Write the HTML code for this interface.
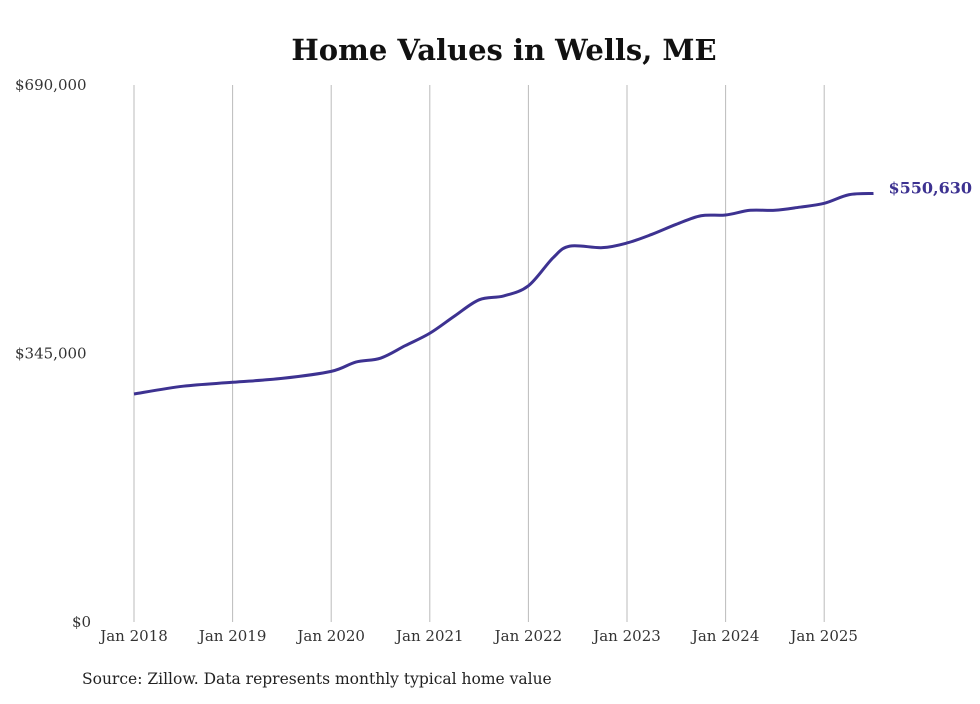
<!DOCTYPE html>
<html><head><meta charset="utf-8"><style>
body{margin:0;background:#fff;width:980px;height:699px;overflow:hidden}
svg text{font-family:"DejaVu Serif","Liberation Serif",serif}
</style></head><body>
<svg id="chart" width="980" height="699">
<text x="504" y="60" text-anchor="middle" font-size="29" font-weight="bold" fill="#111">Home Values in Wells, ME</text>
<g id="grid"></g><g id="yaxis"></g><g id="xaxis"></g>
<path id="line" fill="none" stroke="#3d3291" stroke-width="3"/>
<text id="endlabel" font-size="16" font-weight="bold" fill="#3d3291"></text>
<text x="82" y="684" font-size="15.5" fill="#222">Source: Zillow. Data represents monthly typical home value</text>
</svg>
<script>
const dates=[2018.0,2018.5,2019.0,2019.5,2020.0,2020.25,2020.5,2020.75,2021.0,2021.25,2021.5,2021.75,2022.0,2022.25,2022.42,2022.75,2023.0,2023.25,2023.5,2023.75,2024.0,2024.25,2024.5,2024.75,2025.0,2025.25,2025.5];
const values=[293000,303000,308000,313000,322000,334000,339000,355000,371000,393000,414000,419000,432000,468000,483000,481000,487000,498000,511000,522000,523000,529000,529000,533000,538000,549000,550630];
const yTicks=[0,345000,690000];
const yTickLabels=["$0","$345,000","$690,000"];
const xTicks=[2018,2019,2020,2021,2022,2023,2024,2025];
const xTickLabels=["Jan 2018","Jan 2019","Jan 2020","Jan 2021","Jan 2022","Jan 2023","Jan 2024","Jan 2025"];
const X=t=>134+(t-2018)*98.6;
const Y=v=>622-v*(537/690000);
const ns="http://www.w3.org/2000/svg";
const grid=document.getElementById('grid'),ya=document.getElementById('yaxis'),xa=document.getElementById('xaxis');
xTicks.forEach((t,i)=>{
 const l=document.createElementNS(ns,'line');
 l.setAttribute('x1',X(t));l.setAttribute('x2',X(t));l.setAttribute('y1',85);l.setAttribute('y2',622);
 l.setAttribute('stroke','#bbb');l.setAttribute('stroke-width','1');
 
 
 grid.appendChild(l);
 const tx=document.createElementNS(ns,'text');
 tx.setAttribute('x',X(t));tx.setAttribute('y',641);tx.setAttribute('text-anchor','middle');
 tx.setAttribute('font-size','15');tx.setAttribute('fill','#333');tx.textContent=xTickLabels[i];
 
 
 xa.appendChild(tx);
});
yTicks.forEach((v,i)=>{
 const tx=document.createElementNS(ns,'text');
 tx.setAttribute('x',i===0?72:15);tx.setAttribute('y',Y(v)+5);
 tx.setAttribute('font-size','15');tx.setAttribute('fill','#333');tx.textContent=yTickLabels[i];
 
 
 ya.appendChild(tx);
});
const pts=dates.map((d,i)=>[X(d),Y(values[i])]);
let d='M'+pts[0][0]+','+pts[0][1];
for(let i=0;i<pts.length-1;i++){
 const p0=pts[Math.max(0,i-1)],p1=pts[i],p2=pts[i+1],p3=pts[Math.min(pts.length-1,i+2)];
 const c1=[p1[0]+(p2[0]-p0[0])/6,p1[1]+(p2[1]-p0[1])/6],c2=[p2[0]-(p3[0]-p1[0])/6,p2[1]-(p3[1]-p1[1])/6];
 d+=' C'+c1+' '+c2+' '+p2;
}
document.getElementById('line').setAttribute('d',d);
const last=pts[pts.length-1],el=document.getElementById('endlabel');
el.setAttribute('x',last[0]+15);el.setAttribute('y',last[1]);
el.textContent='$'+values[values.length-1].toLocaleString('en-US');
</script>
</body></html>
